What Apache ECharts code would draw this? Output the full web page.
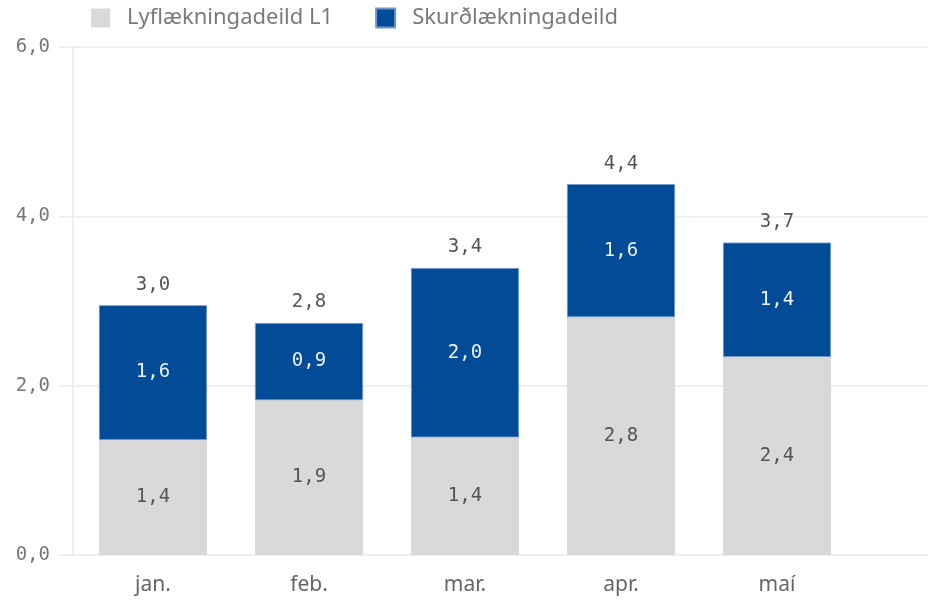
<!DOCTYPE html>
<html>
<head>
<meta charset="utf-8">
<script src="https://cdn.jsdelivr.net/npm/echarts@6/dist/echarts.min.js"></script>
<style>
  html, body { margin: 0; padding: 0; background: #fff; }
  #chart { width: 928px; height: 606px; }
</style>
</head>
<body>
<div id="chart"></div>
<script>
const months = ['jan.', 'feb.', 'mar.', 'apr.', 'maí']
const lyflaekning = [1.36, 1.83, 1.39, 2.81, 2.34]
const skurdlaekning = [1.59, 0.91, 2.0, 1.57, 1.35]
// labels as printed on the chart
const lyfLabels = [1.4, 1.9, 1.4, 2.8, 2.4]
const skurdLabels = [1.6, 0.9, 2.0, 1.6, 1.4]
const totalLabels = [3.0, 2.8, 3.4, 4.4, 3.7]
const yTicks = [0, 2, 4, 6]

const numFont = '"DejaVu Sans Mono", monospace'
const textFont = '"Noto Sans", sans-serif'
const fmt = v => v.toFixed(1).replace('.', ',')

const chart = echarts.init(document.getElementById('chart'))
const totals = lyflaekning.map((v, i) => v + skurdlaekning[i])

chart.setOption({
  animation: false,
  backgroundColor: '#fff',
  legend: {
    data: ['Lyflækningadeild L1', 'Skurðlækningadeild'],
    left: 91,
    top: 7,
    padding: 0,
    icon: 'rect',
    itemWidth: 19,
    itemHeight: 19,
    itemGap: 42,
    textStyle: { color: '#7a7a7a', fontSize: 22, fontFamily: textFont, padding: [0, 0, 0, 12] }
  },
  grid: [
    { left: 73, right: 0, top: 47, bottom: 51 },
    { left: 75, width: 780, top: 47, bottom: 51 }
  ],
  xAxis: [
    { gridIndex: 0, type: 'category', data: months, show: false },
    {
      gridIndex: 1,
      type: 'category',
      data: months,
      axisLine: { show: false },
      axisTick: { show: false },
      axisLabel: { color: '#666', fontSize: 21, fontFamily: textFont, margin: 20 }
    }
  ],
  yAxis: [
    {
      gridIndex: 0,
      type: 'value',
      min: yTicks[0],
      max: yTicks[yTicks.length - 1],
      interval: 2,
      axisLine: { show: true, lineStyle: { color: '#ebebeb', width: 1.5 } },
      axisTick: { show: true, length: 15, lineStyle: { color: '#ebebeb', width: 1.5 } },
      splitLine: { lineStyle: { color: '#ebebeb', width: 1.5 } },
      axisLabel: {
        color: '#777',
        fontSize: 19,
        fontFamily: numFont,
        margin: 23,
        formatter: v => fmt(v)
      }
    },
    { gridIndex: 1, type: 'value', min: 0, max: 6, show: false }
  ],
  series: [
    {
      name: 'Lyflækningadeild L1',
      type: 'bar',
      xAxisIndex: 1,
      yAxisIndex: 1,
      stack: 'deild',
      barWidth: 108,
      data: lyflaekning,
      itemStyle: { color: '#d9d9d9' },
      label: {
        show: true,
        position: 'inside',
        color: '#555',
        fontSize: 19,
        fontFamily: numFont,
        formatter: p => fmt(lyfLabels[p.dataIndex])
      }
    },
    {
      name: 'Skurðlækningadeild',
      type: 'bar',
      xAxisIndex: 1,
      yAxisIndex: 1,
      stack: 'deild',
      barWidth: 108,
      data: skurdlaekning,
      itemStyle: { color: '#014b97', borderColor: '#6f96c6', borderWidth: 0.8 },
      label: {
        show: true,
        position: 'inside',
        color: '#eef2f8',
        fontSize: 19,
        fontFamily: numFont,
        formatter: p => fmt(skurdLabels[p.dataIndex])
      }
    },
    {
      name: 'total',
      type: 'bar',
      xAxisIndex: 1,
      yAxisIndex: 1,
      barWidth: 108,
      barGap: '-100%',
      silent: true,
      data: totals,
      itemStyle: { color: 'rgba(0,0,0,0)' },
      label: {
        show: true,
        position: 'top',
        distance: 11,
        color: '#555',
        fontSize: 19,
        fontFamily: numFont,
        formatter: p => fmt(totalLabels[p.dataIndex])
      },
      z: 1
    }
  ]
})
</script>
</body>
</html>
